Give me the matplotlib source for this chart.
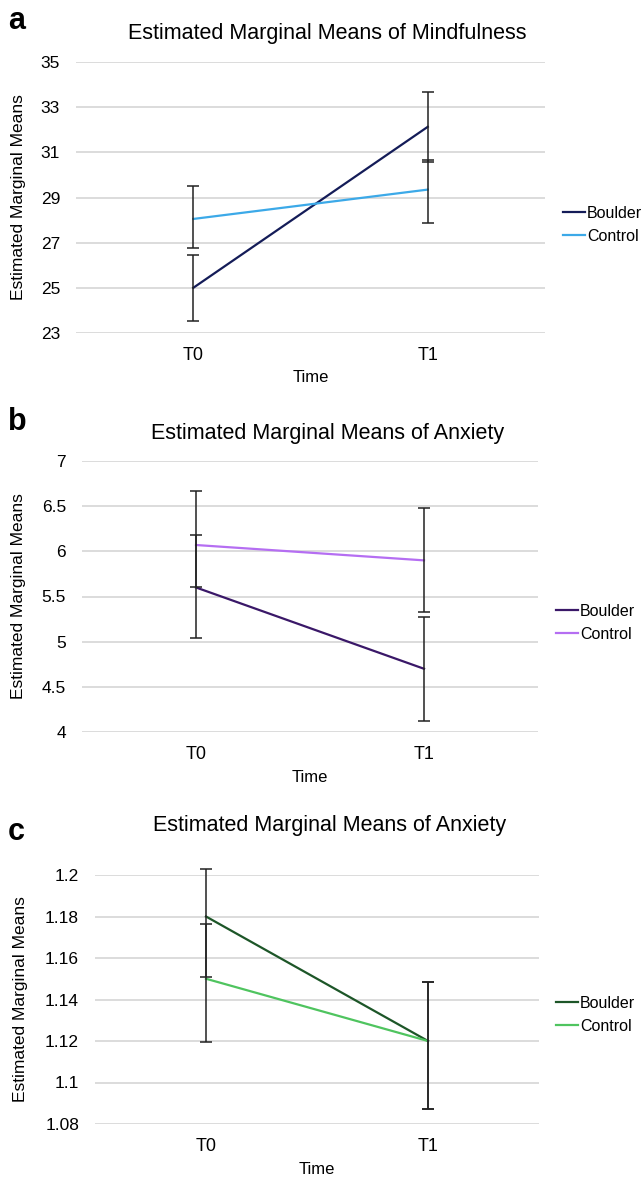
import matplotlib.pyplot as plt
import numpy as np

plt.rcParams['font.family'] = ['Liberation Sans', 'DejaVu Sans']

times = ['T0', 'T1']
groups = ['Boulder', 'Control']

# a - mindfulness
mind_boulder = [25.0, 32.13]
mind_boulder_lo = [23.55, 30.55]
mind_boulder_hi = [26.45, 33.68]
mind_control = [28.05, 29.35]
mind_control_lo = [26.78, 27.88]
mind_control_hi = [29.5, 30.68]

# b - anxiety
anx_boulder = [5.6, 4.7]
anx_boulder_lo = [5.04, 4.12]
anx_boulder_hi = [6.18, 5.27]
anx_control = [6.07, 5.9]
anx_control_lo = [5.6, 5.33]
anx_control_hi = [6.67, 6.48]

# c - anxiety (second measure)
anx2_boulder = [1.18, 1.12]
anx2_boulder_lo = [1.151, 1.087]
anx2_boulder_hi = [1.2028, 1.1485]
anx2_control = [1.15, 1.12]
anx2_control_lo = [1.1195, 1.087]
anx2_control_hi = [1.1765, 1.1485]

W, H = 644, 1178

panels = [
    dict(letter='a', title='Estimated Marginal Means of Mindfulness',
         box=(76, 545, 62, 333), title_xy=(327, 33), letter_base=29,
         legend_xy=(563, 225), ylab_x=18.5, xlab_y=378,
         b=(mind_boulder, mind_boulder_lo, mind_boulder_hi),
         c=(mind_control, mind_control_lo, mind_control_hi),
         colors=('#141c58', '#3ca9e8'),
         ylim=(23, 35), yticks=[23, 25, 27, 29, 31, 33, 35]),
    dict(letter='b', title='Estimated Marginal Means of Anxiety',
         box=(82, 538, 461, 732), title_xy=(328, 433), letter_base=430,
         legend_xy=(556, 623), ylab_x=18.5, xlab_y=777,
         b=(anx_boulder, anx_boulder_lo, anx_boulder_hi),
         c=(anx_control, anx_control_lo, anx_control_hi),
         colors=('#3a1868', '#b56ef2'),
         ylim=(4, 7), yticks=[4, 4.5, 5, 5.5, 6, 6.5, 7]),
    dict(letter='c', title='Estimated Marginal Means of Anxiety',
         box=(95, 539, 875, 1124), title_xy=(330, 825), letter_base=840,
         legend_xy=(556, 1015), ylab_x=20.5, xlab_y=1170,
         b=(anx2_boulder, anx2_boulder_lo, anx2_boulder_hi),
         c=(anx2_control, anx2_control_lo, anx2_control_hi),
         colors=('#1d5628', '#4fc45f'),
         ylim=(1.08, 1.2), yticks=[1.08, 1.1, 1.12, 1.14, 1.16, 1.18, 1.2]),
]

fig = plt.figure(figsize=(W/100, H/100), dpi=100)
x = np.arange(len(times))

for p in panels:
    l, r, t, b = p['box']
    ax = fig.add_axes([l/W, 1-b/H, (r-l)/W, (b-t)/H])
    for g, (vals, lo, hi), col in zip(groups, (p['b'], p['c']), p['colors']):
        vals = np.array(vals)
        err = [vals - np.array(lo), np.array(hi) - vals]
        ax.plot(x, vals, color=col, lw=1.6, label=g, zorder=3)
        eb = ax.errorbar(x, vals, yerr=err, fmt='none', ecolor='#222222',
                         elinewidth=1.1, capsize=4.5, capthick=1.1, zorder=4)
        for art in eb.lines[1] + eb.lines[2]:
            art.set_clip_on(False)
    ax.set_xlim(-0.5, 1.5)
    ax.set_ylim(*p['ylim'])
    ax.set_yticks(p['yticks'])
    ax.set_yticklabels(['{:g}'.format(v) for v in p['yticks']], fontsize=12.5)
    ax.set_xticks(x)
    ax.set_xticklabels(times, fontsize=13)
    ax.tick_params(axis='x', length=0, pad=10)
    ax.tick_params(axis='y', length=0, pad=11.5)
    ax.grid(axis='y', color='#d9d9d9', lw=1.3)
    ax.set_axisbelow(True)
    for s in ax.spines.values():
        s.set_visible(False)
    ax.set_xlabel('Time', fontsize=12)
    ax.xaxis.label.set_va('center')
    ax.xaxis.set_label_coords(0.5, (b - p['xlab_y'])/(b - t))
    ax.set_ylabel('Estimated Marginal Means', fontsize=12.5)
    ax.yaxis.label.set_va('center')
    ax.yaxis.set_label_coords((p['ylab_x'] - l)/(r - l), 0.5)
    lx, ly = p['legend_xy']
    fig.legend(*ax.get_legend_handles_labels(), loc='center left',
               bbox_to_anchor=(lx/W, 1-ly/H), frameon=False, borderpad=0,
               borderaxespad=0, fontsize=11.5, handlelength=1.4,
               handletextpad=0.1, labelspacing=0.5)
    tx, ty = p['title_xy']
    fig.text(tx/W, 1-ty/H, p['title'], ha='center', va='center', fontsize=15.5)
    fig.text(8/W, 1-p['letter_base']/H, p['letter'], ha='left', va='baseline',
             fontsize=22, fontweight='bold')

fig.savefig('out.png', dpi=100)
